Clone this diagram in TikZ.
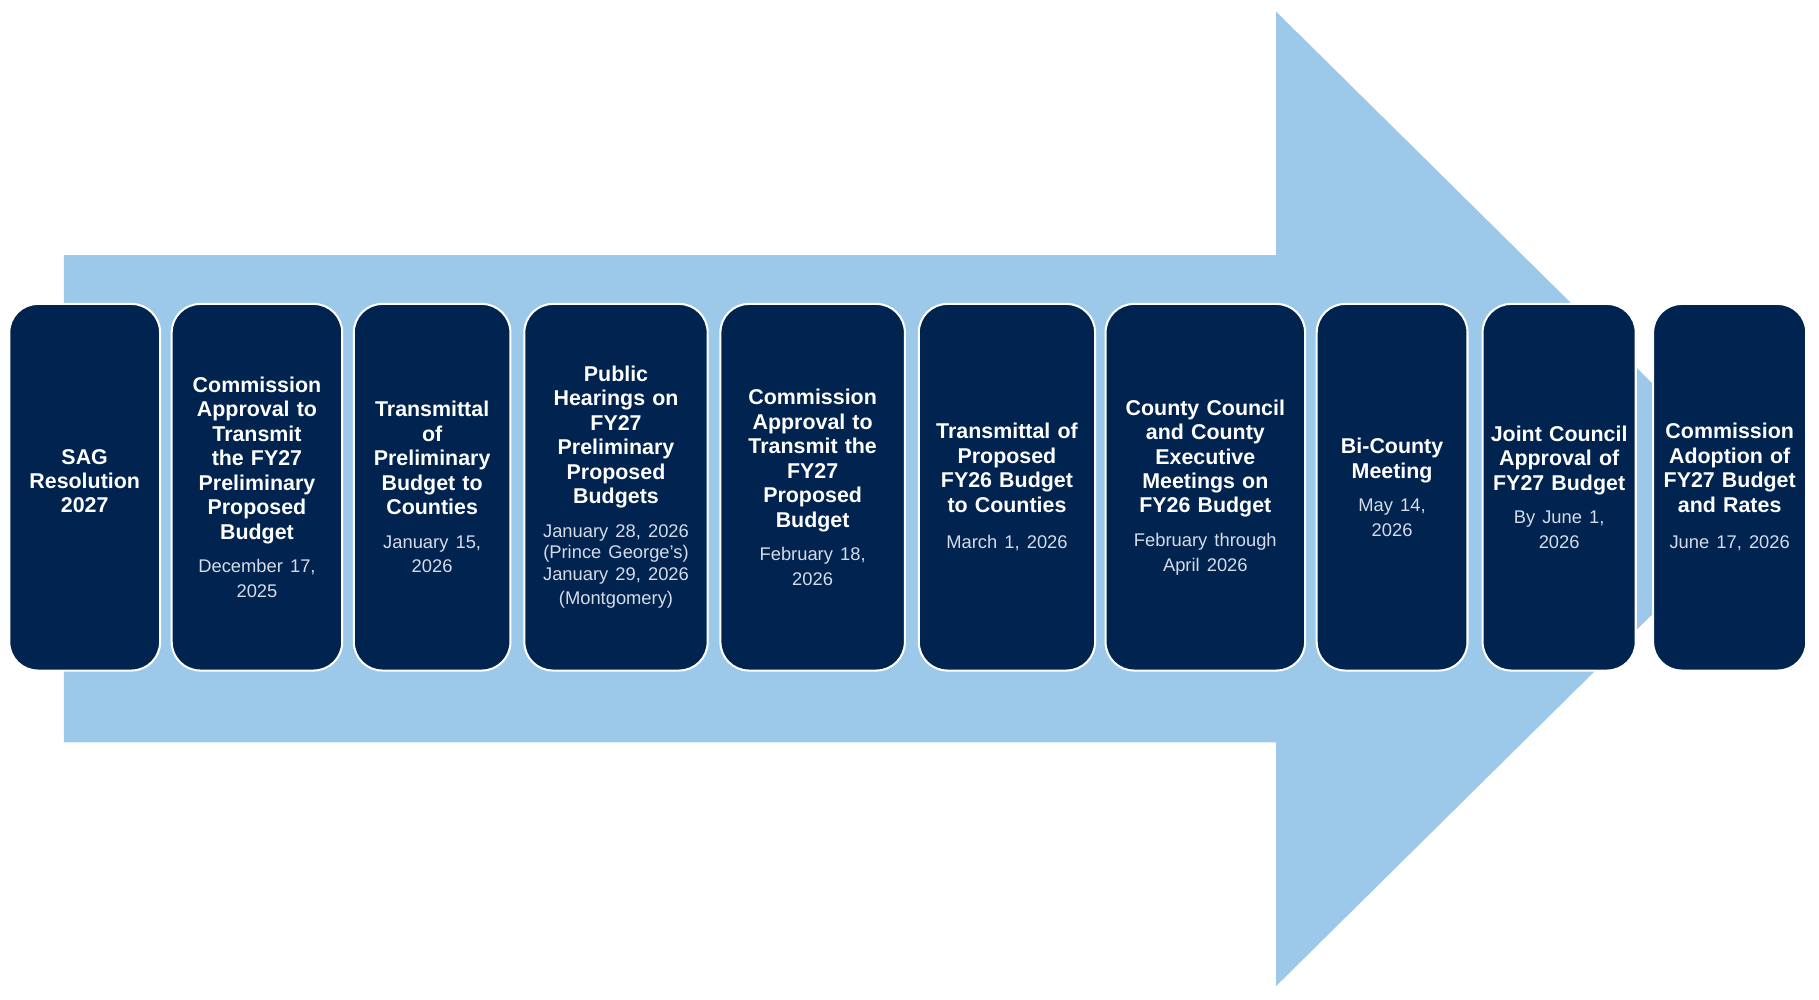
\documentclass[tikz,border=0pt]{standalone}
\usepackage{fontspec}
\setmainfont{Liberation Sans}
\definecolor{navy}{HTML}{00234F}
\definecolor{sky}{HTML}{9CC9EA}
\definecolor{datec}{HTML}{D5DCE8}
\begin{document}
\begin{tikzpicture}[x=0.02cm,y=-0.02cm,
  box/.style={draw=white,line width=1pt,fill=navy,rounded corners=14pt,inner sep=0pt},
  lab/.style={text=white,align=center,font=\bfseries\fontsize{10.5}{12}\selectfont},
  dt/.style={text=datec,align=center,font=\fontsize{9}{10.5}\selectfont}]
\useasboundingbox (0,0) rectangle (1568,862);
\fill[sky] (55,220) -- (1100,220) -- (1100,10) -- (1525,430) -- (1100,850) -- (1100,640) -- (55,640) -- cycle;
\newcommand\bx[5]{%
  \draw[box] (#1,262) rectangle (#2,578);
  \node[lab,text width={(#2-#1-14)*0.02cm}] (#5) at ({(#1+#2)/2},420) {#3\\[6pt]{\mdseries\color{datec}\fontsize{9}{10.5}\selectfont #4}};}
\bx{8}{138}{SAG\\Resolution\\2027}{}{b1}
\bx{148}{295}{Commission\\Approval to\\Transmit\\the FY27\\Preliminary\\Proposed\\Budget}{December 17,\\2025}{b2}
\bx{305}{440}{Transmittal\\of\\Preliminary\\Budget to\\Counties}{January 15,\\2026}{b3}
\bx{452}{610}{Public\\Hearings on\\FY27\\Preliminary\\Proposed\\Budgets}{January 28, 2026\\(Prince George's)\\January 29, 2026\\(Montgomery)}{b4}
\bx{621}{780}{Commission\\Approval to\\Transmit the\\FY27\\Proposed\\Budget}{February 18,\\2026}{b5}
\bx{792}{944}{Transmittal of\\Proposed\\FY26 Budget\\to Counties}{March 1, 2026}{b6}
\bx{953}{1125}{County Council\\and County\\Executive\\Meetings on\\FY26 Budget}{February through\\April 2026}{b7}
\bx{1135}{1265}{Bi-County\\Meeting}{May 14,\\2026}{b8}
\bx{1278}{1410}{Joint Council\\Approval of\\FY27 Budget}{By June 1,\\2026}{b9}
\bx{1425}{1557}{Commission\\Adoption of\\FY27 Budget\\and Rates}{June 17, 2026}{b10}
\end{tikzpicture}
\end{document}
